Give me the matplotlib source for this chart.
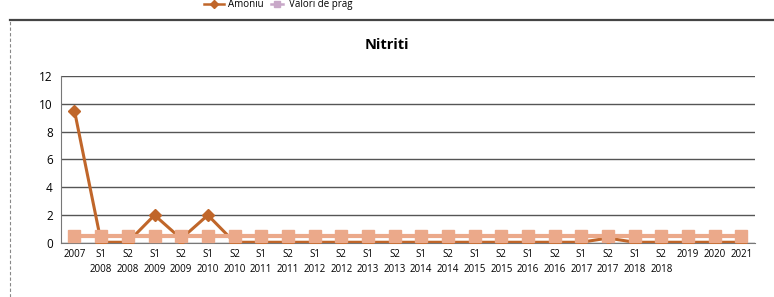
import matplotlib
matplotlib.use("Agg")
import matplotlib.pyplot as plt
from matplotlib.lines import Line2D

categories = ["2007", "S1\n2008", "S2\n2008", "S1\n2009", "S2\n2009", "S1\n2010",
              "S2\n2010", "S1\n2011", "S2\n2011", "S1\n2012", "S2\n2012", "S1\n2013",
              "S2\n2013", "S1\n2014", "S2\n2014", "S1\n2015", "S2\n2015", "S1\n2016",
              "S2\n2016", "S1\n2017", "S2\n2017", "S1\n2018", "S2\n2018", "2019",
              "2020", "2021"]
nitriti = [9.5, 0.05, 0.05, 2.0, 0.3, 2.0, 0.05, 0.05, 0.05, 0.05, 0.05, 0.05,
           0.05, 0.05, 0.05, 0.05, 0.05, 0.05, 0.05, 0.05, 0.35, 0.05, 0.05, 0.05,
           0.05, 0.05]
prag = [0.5] * len(categories)
yticks = [0, 2, 4, 6, 8, 10, 12]

plt.rcParams['font.family'] = ['Open Sans', 'DejaVu Sans']

fig = plt.figure(figsize=(7.74, 2.97), dpi=100)
ax = fig.add_axes([0.079, 0.182, 0.896, 0.562])

x = list(range(len(categories)))
ax.plot(x, nitriti, color="#C0662A", lw=2.2, marker="D", ms=6.5,
        markeredgecolor="#C0662A", zorder=3)
ax.plot(x, prag, color="#EBA98A", lw=3, marker="s", ms=8.5,
        markeredgecolor="#EBA98A", zorder=4)

ax.set_xlim(-0.5, len(categories) - 0.5)
ax.set_ylim(0, 12)
ax.set_yticks(yticks)
ax.set_yticklabels([str(v) for v in yticks], fontsize=8.5)
ax.set_xticks(x)
ax.set_xticklabels(categories, fontsize=7, va="top", linespacing=1.5)
ax.tick_params(axis="both", length=0, pad=6)
ax.tick_params(axis="x", pad=4)
ax.grid(axis="y", color="#555555", lw=1.0)
ax.set_axisbelow(True)
for s in ["top", "right"]:
    ax.spines[s].set_visible(False)
ax.spines["left"].set_color("#777777")
ax.spines["bottom"].set_color("#777777")

fig.text(0.5, 0.848, "Nitriti", ha="center", va="center", fontsize=10.5,
         fontweight="bold")

# frame lines of the scanned page
fig.add_artist(Line2D([0.013, 1.0], [0.933, 0.933], color="#444444", lw=1.6))
fig.add_artist(Line2D([0.013, 0.013], [0.0, 0.933], color="#888888", lw=0.8,
                      ls=(0, (3, 2))))

# legend at the top (partly cut in the scan)
ly = 0.985
fig.add_artist(Line2D([0.264, 0.276, 0.289], [ly, ly, ly], color="#C0662A",
                      lw=1.8, marker="D", ms=4.5, markevery=[1]))
fig.text(0.295, ly, "Amoniu", ha="left", va="center", fontsize=7)
fig.add_artist(Line2D([0.350, 0.358, 0.366], [ly, ly, ly], color="#C8A8C8",
                      lw=1.8, marker="s", ms=4.5, markevery=[1]))
fig.text(0.373, ly, "Valori de prag", ha="left", va="center", fontsize=7)

fig.savefig("out.png", dpi=100)
